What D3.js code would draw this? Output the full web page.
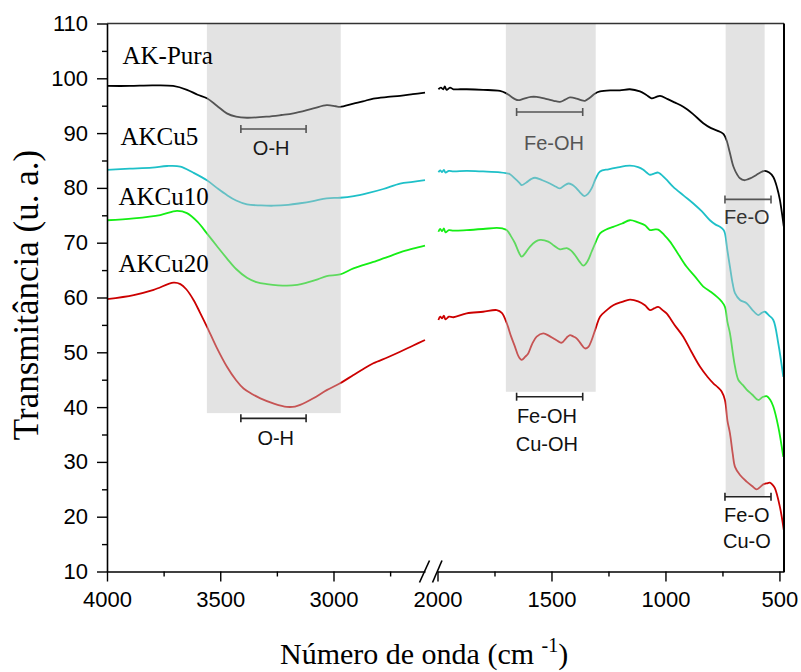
<!DOCTYPE html>
<html>
<head>
<meta charset="utf-8">
<script src="https://cdn.jsdelivr.net/npm/d3@7"></script>
<style>
  html, body { margin: 0; padding: 0; background: #fff; }
  svg { display: block; }
</style>
</head>
<body>
<svg id="chart" width="801" height="672"></svg>
<script>
// FTIR spectra, wavenumber (cm-1) vs transmittance, broken x axis
const seriesNames = ["AK-Pura", "AKCu5", "AKCu10", "AKCu20"];
const seriesColors = ["#000000", "#1ec0c8", "#14ee14", "#cc0000"];

const akPura = [
  [4000,98.6],[3900,98.6],[3800,98.7],[3708,98.6],[3647,97.9],[3600,97.0],[3559,96.35],[3515,95.0],[3471,93.6],
  [3430,93.0],[3382,92.8],[3294,93.0],[3230,93.3],[3177,93.6],[3089,94.5],[3030,95.1],[2990,94.9],[2971,94.8],
  [2912,95.4],[2870,95.8],[2824,96.3],[2760,96.6],[2706,96.8],[2650,97.1],[2596,97.4],
  [1996,98.0],[1985,98.3],[1975,98.0],[1968,98.5],[1960,97.9],[1945,98.3],[1930,98.0],[1900,98.0],[1872,98.0],
  [1800,97.9],[1726,97.7],[1700,97.3],[1682,96.8],[1660,96.2],[1646,96.0],[1620,96.3],[1590,96.6],[1565,96.6],
  [1520,96.2],[1490,95.9],[1463,95.7],[1440,96.1],[1419,96.5],[1390,96.3],[1370,96.0],[1353,95.9],[1330,96.5],
  [1310,97.2],[1287,97.6],[1240,97.8],[1200,97.8],[1156,98.0],[1112,97.6],[1085,97.0],[1061,96.35],[1040,96.6],
  [1024,96.8],[990,96.2],[960,95.6],[922,94.8],[880,93.5],[834,91.8],[800,90.9],[761,90.25],[745,89.8],[732,88.7],
  [718,86.5],[702,83.9],[685,82.4],[673,81.75],[655,81.4],[637,81.6],[620,81.9],[600,82.4],[580,82.9],[564,83.1],
  [545,82.8],[527,82.0],[510,80.0],[498,77.8],[481,73.0]
];
const akCu5 = [
  [4000,83.3],[3900,83.5],[3800,83.7],[3735,84.0],[3676,83.9],[3620,82.8],[3559,81.4],[3515,80.0],[3471,78.7],
  [3430,77.7],[3382,77.0],[3320,76.8],[3265,76.75],[3200,76.9],[3147,77.2],[3090,77.6],[3030,78.1],[2971,78.2],
  [2910,78.5],[2853,79.0],[2780,79.8],[2706,80.8],[2650,81.1],[2596,81.4],
  [1996,82.85],[1988,83.2],[1980,82.9],[1972,83.3],[1965,82.8],[1950,83.1],[1930,83.0],[1872,83.1],[1800,83.0],
  [1726,82.85],[1700,82.7],[1682,82.5],[1660,81.7],[1638,80.8],[1631,80.5],[1610,81.0],[1590,81.6],[1572,81.85],
  [1540,81.4],[1507,80.8],[1480,80.2],[1463,79.9],[1445,80.4],[1426,80.8],[1410,80.6],[1397,80.2],[1375,79.2],
  [1356,78.5],[1340,78.9],[1324,79.9],[1305,81.8],[1287,83.0],[1250,83.4],[1214,83.7],[1156,84.05],[1120,83.8],
  [1097,83.3],[1080,82.7],[1068,82.4],[1050,82.6],[1032,82.8],[1000,81.7],[966,80.2],[920,78.6],[879,77.2],
  [840,75.7],[805,74.1],[780,73.3],[761,72.9],[745,72.3],[739,71.7],[728,68.5],[717,65.6],[705,62.5],[695,60.8],
  [673,59.55],[644,58.95],[620,57.8],[593,56.8],[578,57.2],[564,57.4],[545,56.7],[527,55.9],[505,51.6],[483,45.5]
];
const akCu10 = [
  [4000,74.1],[3882,74.45],[3765,75.05],[3691,75.8],[3647,75.4],[3600,73.8],[3559,71.7],[3515,69.4],[3471,67.15],
  [3430,65.2],[3382,63.6],[3340,62.8],[3294,62.45],[3206,62.15],[3160,62.3],[3118,62.7],[3070,63.3],[3030,63.9],
  [2971,64.2],[2912,65.3],[2824,66.5],[2760,67.4],[2706,68.25],[2650,68.9],[2596,69.45],
  [1996,72.0],[1988,72.5],[1980,72.1],[1972,72.6],[1965,71.9],[1950,72.3],[1930,72.2],[1872,72.3],[1800,72.5],
  [1740,72.7],[1715,72.6],[1696,72.3],[1678,71.2],[1660,69.9],[1645,68.4],[1631,67.45],[1615,68.1],[1594,69.3],
  [1570,70.2],[1550,70.5],[1514,70.2],[1490,69.5],[1463,68.8],[1433,69.0],[1415,68.6],[1397,67.75],[1378,66.6],
  [1360,65.8],[1342,66.6],[1324,68.35],[1305,70.2],[1287,71.7],[1260,72.4],[1229,72.9],[1190,73.5],[1156,74.1],
  [1120,73.7],[1090,73.2],[1068,72.3],[1050,72.4],[1032,72.4],[1005,71.4],[980,70.2],[945,68.0],[907,65.6],
  [870,63.8],[834,62.0],[800,61.0],[775,60.15],[753,59.25],[739,58.3],[728,55.5],[717,53.45],[705,50.0],[695,47.4],
  [680,44.95],[660,44.0],[644,43.2],[620,42.3],[593,41.3],[575,41.8],[556,42.0],[540,41.3],[527,40.1],[505,36.4],
  [483,30.9]
];
const akCu20 = [
  [4000,59.7],[3882,60.45],[3794,61.4],[3706,62.7],[3676,62.45],[3650,61.5],[3618,59.55],[3590,57.3],[3559,54.7],
  [3515,50.8],[3471,47.4],[3430,44.9],[3397,43.4],[3360,42.4],[3323,41.6],[3260,40.6],[3206,40.05],[3170,40.1],
  [3147,40.4],[3089,41.6],[3030,43.1],[2971,44.35],[2912,45.85],[2870,46.9],[2824,48.0],[2760,49.1],[2706,50.1],
  [2650,51.2],[2596,52.25],
  [1996,55.9],[1988,56.5],[1980,56.2],[1972,56.7],[1965,56.0],[1950,56.5],[1930,56.4],[1872,57.1],[1800,57.4],
  [1740,57.7],[1718,57.2],[1696,55.3],[1678,53.0],[1660,51.0],[1645,49.3],[1631,48.6],[1615,49.2],[1602,49.8],
  [1585,51.5],[1565,52.85],[1536,53.45],[1510,53.0],[1492,52.55],[1470,52.0],[1455,51.75],[1435,52.6],[1419,53.15],
  [1405,52.9],[1390,52.55],[1370,51.5],[1353,50.7],[1338,51.0],[1324,52.2],[1305,54.5],[1287,56.5],[1260,57.6],
  [1229,58.6],[1190,59.2],[1156,59.6],[1120,59.3],[1090,58.6],[1068,57.7],[1050,58.0],[1032,58.3],[1010,57.6],
  [995,57.1],[960,55.0],[922,52.85],[885,50.0],[849,47.4],[815,45.5],[790,44.35],[770,43.6],[753,42.8],[739,41.3],
  [728,37.5],[717,35.2],[705,31.5],[695,29.1],[673,27.6],[644,26.4],[620,25.6],[600,25.0],[585,25.4],[571,25.9],
  [555,26.1],[542,26.2],[530,25.8],[520,25.2],[498,21.8],[481,17.6]
];
const seriesData = [akPura, akCu5, akCu10, akCu20];

// Axis ticks
const yMajorTicks = [10,20,30,40,50,60,70,80,90,100,110];
const yMinorTicks = [15,25,35,45,55,65,75,85,95,105];
const xLeftTicks = [4000,3500,3000];
const xLeftMinor = [3750,3250,2750];
const xRightTicks = [2000,1500,1000,500];
const xRightMinor = [1750,1250,750];

// Shaded absorption bands: [from, to, lower transmittance]
const bands = [[3559,2968,38.9],[1700,1306,42.8],[736,565,23.6]];

// Range markers and their labels
const upperMarks = [
  {from:3409, to:3121, at:90.75, label:"O-H", lx:3275, ly:86.0, color:"#1a1a1a"},
  {from:1653, to:1363, at:93.85, label:"Fe-OH", lx:1489, ly:86.9, color:"#555"},
  {from:739, to:537, at:77.9, label:"Fe-O", lx:643, ly:73.4, color:"#333"}
];
const lowerMarks = [
  {from:3409, to:3121, at:37.95, lines:["O-H"], lx:3255, ly:[33.0]},
  {from:1653, to:1363, at:41.9, lines:["Fe-OH","Cu-OH"], lx:1520, ly:[37.05,31.9]},
  {from:739, to:537, at:23.65, lines:["Fe-O","Cu-O"], lx:643, ly:[19.1,14.2]}
];

const svg = d3.select("#chart");

const xLeft = d3.scaleLinear().domain([4000, 2596]).range([107, 425]);
const xRight = d3.scaleLinear().domain([2000, 480]).range([437.5, 784]);
const y = d3.scaleLinear().domain([10, 110]).range([571.5, 23.5]);
const xOf = w => (w > 2300 ? xLeft(w) : xRight(w));

const sansFont = "'Liberation Sans', Arial, sans-serif";
const serifFont = "'Liberation Serif', 'Times New Roman', serif";

// spectra, drawn in two pieces either side of the axis break
const line = d3.line().x(d => xOf(d[0])).y(d => y(d[1])).curve(d3.curveCatmullRom.alpha(0.5));
seriesData.forEach((data, i) => {
  const left = data.filter(d => d[0] > 2300);
  const right = data.filter(d => d[0] <= 2300);
  [left, right].forEach(part => {
    svg.append("path").datum(part)
      .attr("d", line)
      .attr("fill", "none")
      .attr("stroke", seriesColors[i])
      .attr("stroke-width", 1.8)
      .attr("stroke-linejoin", "round");
  });
});

// translucent bands over the curves
bands.forEach(b => {
  const x0 = xOf(b[0]), x1 = xOf(b[1]);
  svg.append("rect")
    .attr("x", x0).attr("y", y(110))
    .attr("width", x1 - x0).attr("height", y(b[2]) - y(110))
    .attr("fill", "#c0c0c0").attr("fill-opacity", 0.44);
});

function bracket(m, color) {
  const x0 = xOf(m.from), x1 = xOf(m.to), yy = y(m.at);
  const g = svg.append("g").attr("stroke", color).attr("stroke-width", 1.6).attr("fill", "none");
  g.append("line").attr("x1", x0).attr("x2", x1).attr("y1", yy).attr("y2", yy);
  g.append("line").attr("x1", x0).attr("x2", x0).attr("y1", yy - 4).attr("y2", yy + 4);
  g.append("line").attr("x1", x1).attr("x2", x1).attr("y1", yy - 4).attr("y2", yy + 4);
}

upperMarks.forEach(m => {
  bracket(m, "#555");
  svg.append("text").attr("x", xOf(m.lx)).attr("y", y(m.ly))
    .attr("text-anchor", "middle").attr("font-family", sansFont).attr("font-size", 20)
    .attr("fill", m.color).text(m.label);
});
lowerMarks.forEach(m => {
  bracket(m, "#222");
  m.lines.forEach((t, k) => {
    svg.append("text").attr("x", xOf(m.lx)).attr("y", y(m.ly[k]))
      .attr("text-anchor", "middle").attr("font-family", sansFont).attr("font-size", 20)
      .attr("fill", "#111").text(t);
  });
});

// series names
const nameX = [122.5, 120.5, 118.5, 118.5];
const nameY = [63.5, 145, 205, 271.5];
seriesNames.forEach((n, i) => {
  svg.append("text").attr("x", nameX[i]).attr("y", nameY[i])
    .attr("font-family", serifFont).attr("font-size", 25).attr("fill", "#000").text(n);
});

// frame: top and right
svg.append("line").attr("x1", 107).attr("x2", 784).attr("y1", y(110)).attr("y2", y(110))
  .attr("stroke", "#333").attr("stroke-width", 1.4);
svg.append("line").attr("x1", 784).attr("x2", 784).attr("y1", y(110)).attr("y2", y(10) + 0.5)
  .attr("stroke", "#000").attr("stroke-width", 2);

function styleAxis(g) {
  g.selectAll("path.domain").attr("stroke", "#000").attr("stroke-width", 1.6);
  g.selectAll(".tick line").attr("stroke", "#000").attr("stroke-width", 1.4);
  g.selectAll("text").attr("font-family", sansFont).attr("font-size", 22).attr("fill", "#000");
}

const intFormat = d3.format("d");

// y axis
const yAxis = svg.append("g").attr("transform", "translate(107,0)")
  .call(d3.axisLeft(y).tickValues(yMajorTicks).tickFormat(intFormat).tickSize(10).tickPadding(9).tickSizeOuter(0));
styleAxis(yAxis);
const yMinor = svg.append("g").attr("transform", "translate(107,0)")
  .call(d3.axisLeft(y).tickValues(yMinorTicks).tickSize(5).tickFormat("").tickSizeOuter(0));
yMinor.select("path.domain").remove();
styleAxis(yMinor);

// x axis, left piece
const xAxisY = y(10);
const xl = svg.append("g").attr("transform", `translate(0,${xAxisY})`)
  .call(d3.axisBottom(xLeft).tickValues(xLeftTicks).tickFormat(intFormat).tickSize(10).tickPadding(10).tickSizeOuter(0));
styleAxis(xl);
const xlm = svg.append("g").attr("transform", `translate(0,${xAxisY})`)
  .call(d3.axisBottom(xLeft).tickValues(xLeftMinor).tickSize(5).tickFormat("").tickSizeOuter(0));
xlm.select("path.domain").remove();
styleAxis(xlm);

// x axis, right piece
const xr = svg.append("g").attr("transform", `translate(0,${xAxisY})`)
  .call(d3.axisBottom(xRight).tickValues(xRightTicks).tickFormat(intFormat).tickSize(10).tickPadding(10).tickSizeOuter(0));
styleAxis(xr);
const xrm = svg.append("g").attr("transform", `translate(0,${xAxisY})`)
  .call(d3.axisBottom(xRight).tickValues(xRightMinor).tickSize(5).tickFormat("").tickSizeOuter(0));
xrm.select("path.domain").remove();
styleAxis(xrm);

// axis break marks
svg.append("rect").attr("x", 426).attr("y", xAxisY - 2).attr("width", 7).attr("height", 4).attr("fill", "#fff");
[[419.5, 429.5], [432.5, 442]].forEach(s => {
  svg.append("line").attr("x1", s[0]).attr("y1", xAxisY + 11).attr("x2", s[1]).attr("y2", xAxisY - 11)
    .attr("stroke", "#000").attr("stroke-width", 1.6);
});

// axis titles
svg.append("text")
  .attr("transform", "translate(37.5,295) rotate(-90)")
  .attr("text-anchor", "middle").attr("font-family", serifFont).attr("font-size", 35).attr("fill", "#000")
  .text("Transmitância (u. a.)");

const xt = svg.append("text").attr("x", 280).attr("y", 664)
  .attr("font-family", serifFont).attr("font-size", 30).attr("fill", "#000");
xt.append("tspan").text("Número de onda (cm ");
xt.append("tspan").attr("font-size", 20).attr("dy", -12).text("-1");
xt.append("tspan").attr("dy", 12).text(")");
</script>
</body>
</html>
